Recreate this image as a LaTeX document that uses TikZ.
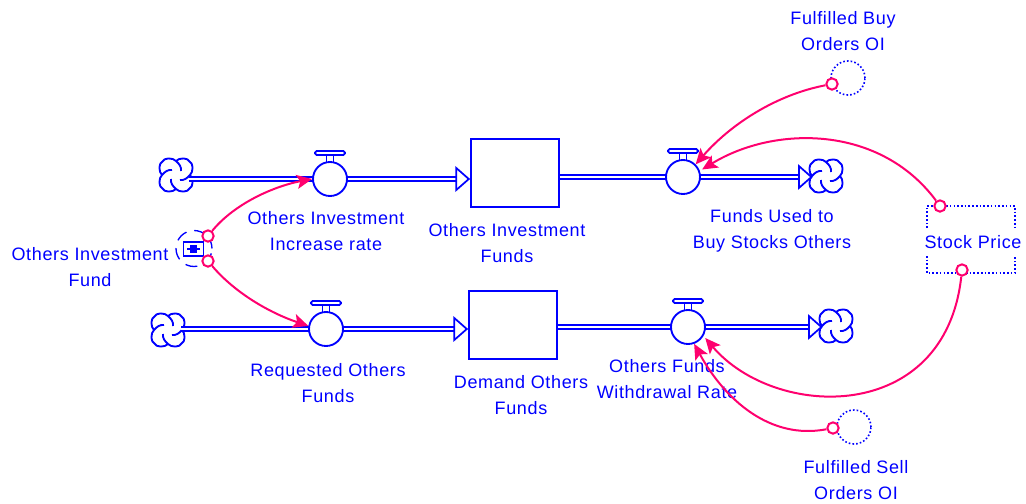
\documentclass[tikz,border=0pt]{standalone}
\usepackage{fontspec}
\setmainfont[LetterSpace=3.6]{Liberation Sans}
\usetikzlibrary{arrows.meta,calc}
\definecolor{sdblue}{RGB}{0,0,255}
\definecolor{sdpink}{RGB}{255,0,110}
\tikzset{
  valve/.style={circle,draw=sdblue,line width=1.4pt,fill=white,minimum size=25.5pt,inner sep=0pt},
  stockbox/.style={rectangle,draw=sdblue,line width=1.3pt,fill=white,minimum width=66pt,minimum height=51pt,inner sep=0pt},
  pipe/.style={draw=sdblue,line width=1.2pt,double=white,double distance=1.4pt},
  pipetip/.style={pipe,-{Triangle[open,fill=white,length=11pt,width=19pt,line width=1.3pt]}},
  cloudspot/.style={circle,minimum size=19.5pt,inner sep=0pt},
  ghost/.style={circle,draw=sdblue,line width=1.2pt,dash pattern=on 1.2pt off 1.6pt,minimum size=25.5pt,inner sep=0pt},
  port/.style={circle,draw=sdpink,line width=1.5pt,fill=white,minimum size=8.5pt,inner sep=0pt},
  link/.style={draw=sdpink,line width=1.5pt,-{Stealth[length=11.5pt,width=10.5pt,inset=2.5pt]}},
  lbl/.style={text=sdblue,font=\fontsize{13.5pt}{19.5pt}\selectfont,align=center,inner sep=0pt},
  dottedbox/.style={draw=sdblue,line width=1.2pt,dash pattern=on 1.2pt off 1.6pt},
}
\newcommand{\mycloud}[3]{%
  \node[cloudspot] (#1) at (#2,#3) {};
  \foreach \r in {0,90,180,270}{
    \draw[sdblue,line width=1.4pt,line join=round,shift={(#2,#3)},rotate=\r]
      (0,-14) .. controls (3,-17.5) and (12,-17.5) .. (13.5,-13.5)
      .. controls (17.5,-12) and (17.5,-3) .. (14,0)
      .. controls (11,3.5) and (8,5.5) .. (4,5);
  }
}
\newcommand{\myhandle}[1]{%
  \draw[sdblue,line width=1.3pt,rounded corners=1.2pt,fill=white] ($(#1)+(-15,-28)$) rectangle ($(#1)+(15,-24)$);
  \draw[sdblue,line width=1.3pt] ($(#1)+(-3.5,-24)$) -- ($(#1)+(-3.5,-16)$) ($(#1)+(3.5,-24)$) -- ($(#1)+(3.5,-16)$);
}
\begin{document}
\begin{tikzpicture}[x=.75pt,y=-.75pt]
\useasboundingbox (0,0) rectangle (1026,504);
% clouds
\mycloud{c1}{176}{175}
\mycloud{c2}{168}{330}
\mycloud{c3}{826}{176}
\mycloud{c4}{836}{326}
% stocks
\node[stockbox] (s1) at (515,173) {};
\node[stockbox] (s2) at (513,325) {};
% valves
\coordinate (v1p) at (330,179);
\coordinate (v2p) at (326,329);
\coordinate (v3p) at (683,177);
\coordinate (v4p) at (688,327);
% pipes
\draw[pipe] (c1.east |- v1p) -- (v1p);
\draw[pipetip] (v1p) -- (s1.west |- v1p);
\draw[pipe] (c2.east |- v2p) -- (v2p);
\draw[pipetip] (v2p) -- (s2.west |- v2p);
\draw[pipe] (s1.east |- v3p) -- (v3p);
\draw[pipetip] (v3p) -- (c3.west |- v3p);
\draw[pipe] (s2.east |- v4p) -- (v4p);
\draw[pipetip] (v4p) -- (c4.west |- v4p);
\node[valve] (v1) at (v1p) {};
\node[valve] (v2) at (v2p) {};
\node[valve] (v3) at (v3p) {};
\node[valve] (v4) at (v4p) {};
\myhandle{v1}
\myhandle{v2}
\myhandle{v3}
\myhandle{v4}
% ghosts
\node[ghost] (g1) at (848,78) {};
\node[ghost] (g2) at (854,427) {};
% stock price
\draw[dottedbox] (927,228) -- (927,206) -- (1015,206) -- (1015,228);
\draw[dottedbox] (927,256) -- (927,273) -- (1015,273) -- (1015,256);
% fund
\node[circle,draw=sdblue,line width=1pt,dash pattern=on 9pt off 6pt,dash phase=3pt,minimum size=27pt,inner sep=0pt] (fundg) at (194,248.5) {};
\node[rectangle,draw=sdblue,line width=1.4pt,fill=white,minimum width=15pt,minimum height=10.5pt,inner sep=0pt] (fund) at (193.5,249) {};
\draw[sdblue,line width=1.1pt] (187,249) -- (200,249);
\node[rectangle,fill=sdblue,minimum width=5pt,minimum height=6pt,inner sep=0pt] (fundi) at (193.5,249) {};
% ports
\node[port] (p1) at (208,236) {};
\node[port] (p2) at (208,261) {};
\node[port] (p3) at (832,84) {};
\node[port] (p4) at (940,206) {};
\node[port] (p5) at (962,270) {};
\node[port] (p6) at (833,428) {};
% labels
\node[lbl] (t1) at (326,231) {Others Investment\\Increase rate};
\node[lbl] (t2) at (507,243) {Others Investment\\Funds};
\node[lbl] (t3) at (772,231) {Funds Used to\\Buy Stocks Others};
\node[lbl] (t4) at (90,267) {Others Investment\\Fund};
\node[lbl] (t5) at (328,383) {Requested Others\\Funds};
\node[lbl] (t6) at (521,395) {Demand Others\\Funds};
\node[lbl] (t7) at (667,379) {Others Funds\\Withdrawal Rate};
\node[lbl] (t8) at (843,31) {Fulfilled Buy\\Orders OI};
\node[lbl] (t9) at (856,480) {Fulfilled Sell\\Orders OI};
\node[lbl] (t10) at (973,242) {Stock Price};
% links
\draw[link] (p1) .. controls (235,203) and (275,186) .. (v1.180);
\draw[link] (p2) .. controls (235,293) and (270,313) .. (v2.170);
\draw[link] (p3) .. controls (775,95) and (730,125) .. (v3.45);
\draw[link,shorten >=2pt] (p4) .. controls (880,125) and (775,125) .. (v3.20);
\draw[link,shorten >=2pt] (p5) .. controls (945,425) and (775,420) .. (v4.-30);
\draw[link] (p6) .. controls (770,440) and (725,400) .. (v4.-70);
\end{tikzpicture}
\end{document}
